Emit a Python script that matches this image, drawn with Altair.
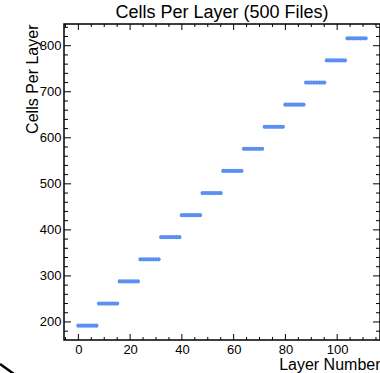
import altair as alt
import pandas as pd

# Each block of 8 consecutive layers shares the same cell count
block_first_layer = [0, 8, 16, 24, 32, 40, 48, 56, 64, 72, 80, 88, 96, 104]
block_cells = [192, 240, 288, 336, 384, 432, 480, 528, 576, 624, 672, 720, 768, 816]
layers_per_block = 8

# Axis ticks
x_major = [0, 20, 40, 60, 80, 100]
x_minor = [-5, 5, 10, 15, 25, 30, 35, 45, 50, 55, 65, 70, 75, 85, 90, 95, 105, 110, 115]
y_major = [200, 300, 400, 500, 600, 700, 800]
y_minor = [180, 220, 240, 260, 280, 320, 340, 360, 380, 420, 440, 460, 480,
           520, 540, 560, 580, 620, 640, 660, 680, 720, 740, 760, 780, 820, 840]

x_domain = [-5.55, 116.55]
y_domain = [160.8, 847.2]

W, H = 316, 316
FONT = "Liberation Sans"
BLUE = "#5b8ff2"

rows = []
for first, cells in zip(block_first_layer, block_cells):
    for layer in range(first, first + layers_per_block):
        rows.append({"layer": layer, "cells": cells})
df = pd.DataFrame(rows)

xs = alt.Scale(domain=x_domain, nice=False, zero=False)
ys = alt.Scale(domain=y_domain, nice=False, zero=False)

x_axis = alt.Axis(
    values=x_major, ticks=False, domain=False, grid=False,
    labelPadding=3, labelFontSize=13, labelFont=FONT, labelColor="black",
    title="Layer Number", titleFont=FONT, titleFontSize=16,
    titleFontWeight="normal", titleColor="black",
    titleAlign="right", titleAnchor="end", titleBaseline="alphabetic",
    titleX=W, titleY=29)
y_axis = alt.Axis(
    values=y_major, ticks=False, domain=False, grid=False,
    labelPadding=3, labelFontSize=13, labelFont=FONT, labelColor="black",
    title="Cells Per Layer", titleFont=FONT, titleFontSize=16,
    titleFontWeight="normal", titleColor="black",
    titleAngle=-90, titleAlign="right", titleAnchor="end",
    titleBaseline="middle", titleX=-32, titleY=0)

X = lambda: alt.X("layer:Q", scale=xs, axis=x_axis)
Y = lambda: alt.Y("cells:Q", scale=ys, axis=y_axis)

points = alt.Chart(df).mark_circle(size=18, color=BLUE, opacity=1).encode(x=X(), y=Y())

def xticks(values, length):
    d = pd.DataFrame({"layer": values})
    bottom = alt.Chart(d).mark_rule(color="black", strokeWidth=1).encode(
        x=X(), y=alt.value(H), y2=alt.value(H - length))
    top = alt.Chart(d).mark_rule(color="black", strokeWidth=1).encode(
        x=X(), y=alt.value(0), y2=alt.value(length))
    return [bottom, top]

def yticks(values, length):
    d = pd.DataFrame({"cells": values})
    left = alt.Chart(d).mark_rule(color="black", strokeWidth=1).encode(
        y=Y(), x=alt.value(0), x2=alt.value(length))
    right = alt.Chart(d).mark_rule(color="black", strokeWidth=1).encode(
        y=Y(), x=alt.value(W), x2=alt.value(W - length))
    return [left, right]

# Stray stroke below the lower-left corner of the frame
stroke = alt.Chart(pd.DataFrame({"k": [0]})).mark_rule(
    color="black", strokeWidth=2.5).encode(
    x=alt.value(-64), x2=alt.value(-50), y=alt.value(H + 24), y2=alt.value(H + 34))

layers = [points] + xticks(x_major, 6) + xticks(x_minor, 3) + \
    yticks(y_major, 7) + yticks(y_minor, 4) + [stroke]

chart = alt.layer(*layers).properties(
    width=W, height=H,
    title=alt.Title("Cells Per Layer (500 Files)", font=FONT, fontSize=18,
                    fontWeight="normal", color="black", anchor="middle", offset=2),
    padding={"left": 64, "top": 24, "right": 0, "bottom": 33},
    autosize=alt.AutoSizeParams(type="none"),
    background="white",
).configure_view(stroke="black", strokeWidth=1.5)

chart.save("out.html", embed_options={"renderer": "svg", "actions": False})
